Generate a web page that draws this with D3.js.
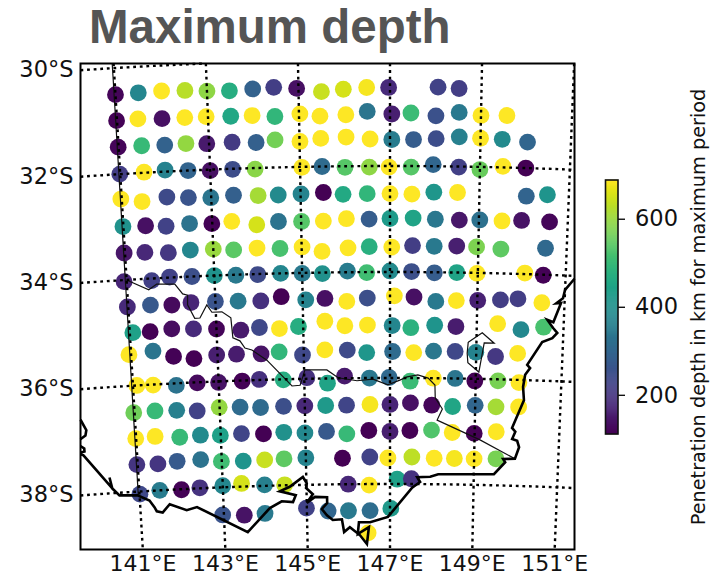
<!DOCTYPE html>
<html>
<head>
<meta charset="utf-8">
<script src="https://cdn.jsdelivr.net/npm/d3@7"></script>
<style>
  html, body { margin: 0; padding: 0; background: white; }
  text { font-family: "DejaVu Sans", sans-serif; fill: #111; }
</style>
</head>
<body>
<div id="chart"></div>
<script>
// stations, one line per row of the grid (south from 30.5S)
var pointLons = [
  141.00,141.50,142.01,142.52,143.00,143.49,144.00,144.46,144.96,145.50,145.98,146.49,146.97,148.05,148.51,
  140.99,141.46,141.99,142.49,142.96,143.50,143.97,144.47,145.02,145.46,146.03,146.50,147.04,147.46,148.01,148.52,149.00,149.57,
  140.99,141.51,142.02,142.49,142.95,143.51,144.04,144.46,145.01,145.47,146.03,146.56,147.04,147.52,148.02,148.53,149.00,149.48,150.04,
  140.99,141.53,142.00,142.51,143.00,143.50,144.00,145.04,145.49,146.00,146.54,146.98,147.47,147.96,148.53,149.00,149.51,150.02,
  140.98,141.45,142.01,142.49,142.99,143.50,144.05,144.50,145.01,145.51,145.95,146.49,147.00,147.49,147.98,148.51,150.05,150.52,
  140.99,141.50,141.96,142.49,142.99,143.44,144.00,144.49,145.01,145.50,146.02,146.53,147.00,147.52,148.02,148.56,149.02,149.52,149.96,150.59,
  140.98,141.45,141.98,142.48,143.00,143.46,143.99,144.51,145.01,145.46,146.05,146.53,147.04,147.51,148.00,148.51,148.96,149.51,150.52,
  140.94,141.57,141.98,142.49,143.00,143.49,143.99,144.51,145.00,145.46,146.03,146.47,147.00,147.49,148.01,148.52,148.98,150.07,150.49,
  140.98,141.51,142.00,142.44,143.00,143.52,144.04,144.51,145.07,145.51,146.01,146.48,147.10,147.55,148.05,148.52,149.01,149.53,149.93,150.48,
  141.07,141.47,141.97,142.47,143.00,143.56,143.99,144.45,144.89,145.50,145.96,146.48,147.05,147.48,148.03,148.52,149.48,150.02,150.54,
  140.95,141.51,141.98,142.45,142.98,143.44,144.01,144.43,144.97,145.49,146.01,146.46,147.06,147.55,148.01,148.51,148.99,149.45,149.96,
  141.09,141.47,142.01,142.50,143.00,143.55,143.95,144.51,145.06,145.54,145.94,146.52,146.98,147.47,148.01,148.52,148.98,149.52,150.01,
  140.98,141.48,141.99,142.47,142.99,143.48,143.96,144.50,145.00,145.49,145.98,146.53,147.00,147.48,147.98,148.47,149.00,149.49,150.02,
  140.99,141.45,142.03,142.52,142.99,143.49,144.01,144.49,144.99,145.50,145.98,146.50,147.00,147.47,147.98,148.47,148.99,149.51,
  140.98,141.48,141.94,142.50,142.99,143.51,144.02,144.48,145.00,145.87,146.52,146.95,147.52,148.05,148.53,149.00,149.52,
  141.01,141.49,142.01,142.45,143.00,143.45,144.00,144.48,146.00,146.50,147.17,147.51,
  142.97,143.49,143.99,144.99,145.51,146.00,146.52,147.02,
  146.47
];
var pointLats = [
  -30.50,-30.49,-30.48,-30.49,-30.52,-30.53,-30.51,-30.49,-30.52,-30.59,-30.55,-30.52,-30.52,-30.51,-30.53,
  -30.99,-30.98,-31.00,-31.00,-31.00,-31.01,-31.01,-31.04,-31.00,-31.05,-31.03,-30.97,-31.02,-31.00,-31.05,-30.98,-31.03,-31.02,
  -31.49,-31.49,-31.50,-31.49,-31.51,-31.50,-31.52,-31.48,-31.52,-31.47,-31.45,-31.49,-31.50,-31.50,-31.48,-31.44,-31.46,-31.47,-31.51,
  -32.00,-31.99,-31.97,-32.00,-32.02,-32.01,-32.02,-32.01,-32.00,-32.02,-32.02,-32.02,-32.02,-31.97,-32.01,-32.05,-31.98,-32.00,
  -32.47,-32.54,-32.48,-32.51,-32.53,-32.50,-32.52,-32.52,-32.51,-32.49,-32.53,-32.52,-32.52,-32.53,-32.49,-32.49,-32.53,-32.49,
  -32.99,-33.00,-33.03,-33.00,-33.02,-32.99,-33.07,-33.02,-33.03,-33.03,-32.99,-33.00,-32.99,-32.98,-33.00,-33.01,-33.00,-33.01,-32.99,-33.00,
  -33.49,-33.50,-33.53,-33.50,-33.50,-33.53,-33.51,-33.53,-33.51,-33.60,-33.54,-33.52,-33.53,-33.50,-33.51,-33.50,-33.51,-33.54,-33.50,
  -34.03,-34.04,-33.99,-34.00,-34.00,-34.01,-34.01,-34.00,-34.01,-34.02,-33.98,-34.01,-33.98,-33.99,-34.01,-34.00,-34.01,-33.98,-34.01,
  -34.51,-34.50,-34.52,-34.49,-34.49,-34.50,-34.51,-34.44,-34.51,-34.49,-34.55,-34.49,-34.45,-34.47,-34.55,-34.53,-34.52,-34.50,-34.47,-34.53,
  -35.00,-35.00,-34.97,-34.99,-35.01,-35.05,-35.01,-35.04,-35.01,-34.92,-35.01,-35.00,-35.01,-35.05,-35.00,-35.02,-34.95,-35.05,-34.99,
  -35.41,-35.37,-35.49,-35.55,-35.50,-35.50,-35.51,-35.48,-35.55,-35.46,-35.47,-35.52,-35.50,-35.52,-35.49,-35.49,-35.50,-35.57,-35.50,
  -36.00,-36.01,-36.04,-36.01,-36.02,-36.01,-35.99,-36.01,-35.98,-36.09,-35.96,-36.00,-35.99,-36.06,-36.00,-36.00,-36.04,-36.03,-36.05,
  -36.51,-36.50,-36.51,-36.54,-36.49,-36.50,-36.52,-36.51,-36.51,-36.51,-36.51,-36.50,-36.50,-36.47,-36.51,-36.53,-36.50,-36.52,-36.51,
  -37.00,-36.98,-37.02,-37.00,-37.02,-37.00,-37.02,-37.00,-37.02,-37.00,-37.05,-36.99,-37.01,-36.99,-36.98,-37.02,-37.03,-36.99,
  -37.49,-37.50,-37.47,-37.46,-37.51,-37.52,-37.51,-37.50,-37.49,-37.51,-37.49,-37.51,-37.49,-37.51,-37.51,-37.51,-37.50,
  -38.05,-38.00,-38.01,-37.99,-37.97,-37.94,-37.98,-37.99,-38.00,-38.02,-37.91,-37.90,
  -38.52,-38.54,-38.52,-38.44,-38.50,-38.50,-38.50,-38.46,
  -38.92
];
var pointDepths = [
  120,375,688,625,590,470,290,215,135,640,650,680,180,225,215,
  115,688,135,688,688,455,688,490,688,688,688,335,160,505,255,345,688,688,
  120,500,290,595,150,210,285,565,688,688,688,688,350,280,245,360,688,385,300,
  215,688,365,295,135,245,585,688,310,535,590,688,535,300,220,555,688,111,
  688,688,240,260,335,285,610,385,370,111,460,490,688,688,415,688,295,410,
  405,135,225,330,115,688,650,330,535,688,688,280,425,445,340,145,325,688,140,118,
  145,175,205,375,600,540,688,520,688,688,688,475,688,215,345,160,575,545,305,
  170,220,225,250,405,345,240,375,345,400,350,510,385,250,280,445,688,688,115,
  180,270,125,170,260,345,190,111,370,135,688,250,688,135,345,688,165,215,215,688,
  440,111,130,180,118,150,235,688,470,688,688,688,375,480,410,155,688,380,520,
  688,335,115,111,160,155,140,490,235,688,240,415,310,688,340,235,370,205,688,
  688,688,330,125,140,115,190,470,190,445,150,340,305,505,688,335,111,570,688,
  560,500,360,225,595,310,310,250,175,420,230,680,170,135,118,450,300,610,688,
  688,688,500,385,440,230,111,400,380,270,500,111,160,111,530,688,111,688,
  200,200,275,330,510,410,640,545,370,111,225,688,630,688,680,688,570,
  235,350,115,195,375,650,360,640,175,688,440,195,
  260,140,345,225,300,345,315,420,
  688
];

var gridLons = [141, 143, 145, 147, 149, 151];
var gridLats = [-30, -32, -34, -36, -38];

// coastline west of the gulf
var coastWest = [[139.66,-36.47],[139.84,-36.78],[139.81,-36.88],[139.71,-36.93],[139.61,-36.98]];
var coastMain = [[139.60,-37.03],[139.76,-37.12],[139.76,-37.18],[139.59,-37.20],[139.73,-37.25],[140.36,-37.91],[140.31,-37.70],[140.36,-37.91],
  [140.52,-38.05],[140.95,-38.07],[141.23,-38.18],[141.34,-38.31],[141.39,-38.39],[141.53,-38.42],[141.71,-38.27],[142.11,-38.40],[142.36,-38.35],
  [143.56,-38.86],[144.11,-38.42],[144.40,-38.30],[144.67,-38.32],[144.74,-38.19],[144.36,-38.11],[144.60,-38.03],[144.92,-37.85],[145.01,-37.97],
  [144.99,-38.06],[145.15,-38.18],[145.00,-38.34],[145.20,-38.23],[145.49,-38.24],[145.49,-38.35],[145.36,-38.46],[145.48,-38.58],[145.62,-38.67],
  [145.84,-38.66],[145.89,-38.90],[146.03,-38.81],[146.27,-38.96],[146.44,-39.13],[146.49,-38.81],[146.22,-38.94],[146.25,-38.72],[146.52,-38.72],
  [146.95,-38.62],[147.53,-38.07],[147.72,-37.96],[147.65,-37.87],[147.96,-37.86],[148.15,-37.81],[149.48,-37.79],[149.74,-37.56],[149.69,-37.50],
  [149.97,-37.49],[150.06,-37.27],[150.01,-37.15],[149.89,-37.12],[149.96,-36.98],[149.88,-36.91],[150.14,-36.38],[150.11,-36.13],[150.15,-35.90],
  [150.26,-35.77],[150.19,-35.71],[150.52,-35.27],[150.75,-35.19],[150.86,-35.09],[150.76,-35.00],[150.62,-34.85],[150.76,-34.89],[150.92,-34.52],
  [150.81,-34.53],[150.96,-34.43],[151.00,-34.27],[151.33,-33.92]];

// state borders
var borderWest = [[140.97,-29],[140.97,-38.07]];
var borderMurray = [[141.00,-34.00],[141.49,-34.21],[141.68,-34.11],[142.09,-34.13],[142.26,-34.32],[142.37,-34.35],[142.36,-34.53],[142.51,-34.79],
  [142.63,-34.79],[142.80,-34.55],[142.91,-34.69],[143.14,-34.69],[143.34,-34.81],[143.37,-35.19],[143.53,-35.25],[143.64,-35.39],[143.80,-35.43],
  [144.14,-35.63],[144.71,-36.13],[144.90,-36.12],[145.02,-35.83],[145.53,-35.84],[145.79,-35.99],[146.23,-36.05],[146.60,-36.02],[146.95,-36.13],
  [147.23,-36.04],[147.40,-35.98],[147.65,-35.94],[147.89,-36.00],[148.05,-36.13],[148.06,-36.37],[148.23,-36.58],[148.11,-36.79],[149.13,-37.15],[149.97,-37.49]];
var borderAct = [[148.81,-35.31],[149.13,-35.13],[149.41,-35.32],[149.18,-35.32],[149.07,-35.87],[148.81,-35.70],[148.79,-35.52],[148.81,-35.31]];

var barTicks = [200, 400, 600];

var frame = {left: 80.5, right: 574.5, top: 63.5, bottom: 549.5};

var svg = d3.select("#chart").append("svg")
  .attr("width", 712)
  .attr("height", 576);

var color = d3.scaleSequential(d3.interpolateViridis).domain([111, 688]);

var projection = d3.geoConicConformal()
  .parallels([-33, -37])
  .rotate([-147, 0])
  .center([0, -35])
  .scale(3037)
  .translate([390, 325])
  .clipExtent([[frame.left, frame.top], [frame.right, frame.bottom]]);

var path = d3.geoPath(projection);

// a second copy without the clip, for finding where grid lines leave the frame
var plain = d3.geoConicConformal()
  .parallels([-33, -37])
  .rotate([-147, 0])
  .center([0, -35])
  .scale(3037)
  .translate([390, 325]);

// points
svg.selectAll(".station")
  .data(pointDepths)
  .enter()
  .append("circle")
  .attr("class", "station")
  .attr("cx", function(d, i) { return plain([pointLons[i], pointLats[i]])[0]; })
  .attr("cy", function(d, i) { return plain([pointLons[i], pointLats[i]])[1]; })
  .attr("r", 8.4)
  .attr("fill", function(d) { return color(d); });

function line(coords) {
  return {type: "LineString", coordinates: coords};
}

// state borders
[borderWest, borderMurray, borderAct].forEach(function(coords) {
  svg.append("path")
    .attr("d", path(line(coords)))
    .attr("fill", "none")
    .attr("stroke", "#111")
    .attr("stroke-width", 1.2);
});

// coast
[coastWest, coastMain].forEach(function(coords) {
  svg.append("path")
    .attr("d", path(line(coords)))
    .attr("fill", "none")
    .attr("stroke", "black")
    .attr("stroke-width", 2.6)
    .attr("stroke-linejoin", "miter");
});

// dotted graticule
gridLons.forEach(function(lon) {
  var coords = d3.range(-28, -42, -0.25).map(function(lat) { return [lon, lat]; });
  svg.append("path")
    .attr("d", path(line(coords)))
    .attr("fill", "none")
    .attr("stroke", "black")
    .attr("stroke-width", 2.4)
    .attr("stroke-dasharray", "2.8 3.8");
});
gridLats.forEach(function(lat) {
  var coords = d3.range(137, 154, 0.25).map(function(lon) { return [lon, lat]; });
  svg.append("path")
    .attr("d", path(line(coords)))
    .attr("fill", "none")
    .attr("stroke", "black")
    .attr("stroke-width", 2.4)
    .attr("stroke-dasharray", "2.8 3.8");
});

// frame
svg.append("rect")
  .attr("x", frame.left)
  .attr("y", frame.top)
  .attr("width", frame.right - frame.left)
  .attr("height", frame.bottom - frame.top)
  .attr("fill", "none")
  .attr("stroke", "black")
  .attr("stroke-width", 2);

// tick labels sit where the grid lines hit the frame
gridLats.forEach(function(lat) {
  var lon = 137;
  while (plain([lon, lat])[0] < frame.left) lon += 0.01;
  svg.append("text")
    .attr("x", frame.left - 7)
    .attr("y", plain([lon, lat])[1] + 7)
    .attr("text-anchor", "end")
    .style("font-size", "22.5px")
    .text(Math.abs(lat) + "°S");
});
gridLons.forEach(function(lon) {
  var lat = -28;
  while (plain([lon, lat])[1] < frame.bottom) lat -= 0.01;
  svg.append("text")
    .attr("x", plain([lon, lat])[0])
    .attr("y", frame.bottom + 21)
    .attr("text-anchor", "middle")
    .style("font-size", "22px")
    .text(lon + "°E");
});

// title
svg.append("text")
  .attr("x", 89)
  .attr("y", 43)
  .style("font-family", "'Liberation Sans', Arial, sans-serif")
  .style("font-weight", "bold")
  .style("font-size", "47.5px")
  .style("fill", "#555")
  .text("Maximum depth");

// colorbar
var barY = d3.scaleLinear().domain([111, 688]).range([434, 180]);
var barX = 605.5, barW = 12.5;
svg.selectAll(".bar-cell")
  .data(d3.range(111, 688, 2.3))
  .enter()
  .append("rect")
  .attr("class", "bar-cell")
  .attr("x", barX)
  .attr("width", barW)
  .attr("y", function(d) { return barY(d) - 1.2; })
  .attr("height", 1.4)
  .attr("fill", function(d) { return color(d); });
svg.append("rect")
  .attr("x", barX)
  .attr("y", barY(688))
  .attr("width", barW)
  .attr("height", barY(111) - barY(688))
  .attr("fill", "none")
  .attr("stroke", "#111")
  .attr("stroke-width", 1.6);

var barAxis = svg.append("g")
  .attr("transform", "translate(" + (barX + barW) + ",0)")
  .call(d3.axisRight(barY).tickValues(barTicks).tickSize(7).tickPadding(10));
barAxis.select(".domain").remove();
barAxis.selectAll("line").attr("stroke", "#111").attr("stroke-width", 1.4);
barAxis.selectAll("text")
  .style("font-size", "22.5px")
  .style("font-family", "'DejaVu Sans', sans-serif")
  .style("fill", "#111");

svg.append("text")
  .attr("transform", "translate(705,307) rotate(-90)")
  .attr("text-anchor", "middle")
  .style("font-size", "19.3px")
  .text("Penetration depth in km for maximum period");
</script>
</body>
</html>
